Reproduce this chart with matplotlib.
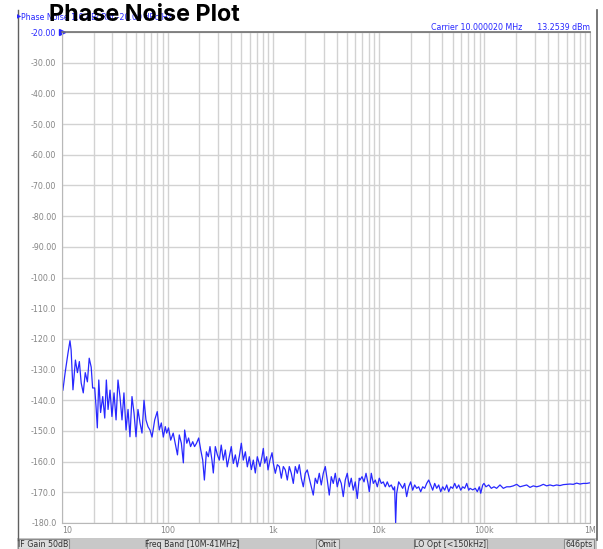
import matplotlib.pyplot as plt
from matplotlib.patches import Rectangle
from matplotlib.ticker import FixedLocator, NullFormatter

# offset frequency (Hz) and phase noise (dBc/Hz)
freq_hz = [
    10.2, 10.7, 11.4, 11.9, 12.2, 12.7, 13.4, 14.0, 14.6, 15.2, 15.9, 16.6, 17.4, 18.1,
    18.9, 19.5, 20.4, 21.0, 21.6, 22.3, 23.2, 24.3, 25.4, 26.3, 27.3, 28.5, 29.7, 31.1,
    32.5, 33.9, 35.4, 37.0, 38.6, 40.4, 42.2, 44.0, 46.0, 48.1, 50.2, 52.4, 54.8, 57.2,
    59.8, 62.4, 65.2, 68.1, 71.2, 75.5, 79.8, 83.4, 87.2, 91.1, 95.1, 98.0, 102, 107,
    113, 118, 124, 129, 135, 141, 145, 152, 158, 165, 173, 180, 188, 197, 206, 215,
    223, 233, 243, 252, 263, 271, 283, 296, 309, 322, 337, 352, 367, 384, 401, 419,
    438, 457, 478, 499, 521, 545, 569, 594, 621, 648, 677, 707, 750, 783, 806, 831,
    867, 893, 933, 975, 1003, 1047, 1094, 1143, 1194, 1247, 1302, 1360, 1420, 1484,
    1550, 1619, 1691, 1766, 1845, 1927, 2012, 2102, 2196, 2294, 2396, 2503, 2614, 2731,
    2852, 2980, 3113, 3251, 3396, 3548, 3706, 3871, 4043, 4223, 4412, 4608, 4813, 5028,
    5252, 5486, 5730, 5985, 6252, 6531, 6640, 6936, 7245, 7568, 7905, 8128, 8490, 8869,
    9264, 9677, 10110, 10560, 11030, 11520, 12030, 12570, 13130, 13720, 14120, 14440,
    14760, 15420, 16110, 16830, 17580, 18360, 19180, 20040, 20930, 21860, 22840, 23860,
    24930, 26040, 27200, 28410, 29680, 31000, 32380, 33830, 35340, 36920, 38560, 40280,
    42080, 43960, 45920, 47970, 50110, 52340, 54680, 57120, 59660, 62320, 65100, 68010,
    71040, 73100, 77500, 82000, 85700, 89500, 92300, 96400, 99100, 103500, 109900,
    116200, 123200, 130600, 140500, 151000, 162600, 174600, 187800, 202300, 217300,
    233500, 251400, 270300, 290400, 312600, 336300, 361400, 388800, 418000, 449100,
    483100, 519600, 558500, 601200, 646700, 695000, 747800, 803500, 864600, 930500,
    1000000,
]
noise_dbc = [
    -136.7, -131.1, -124.6, -120.6, -123.6, -136.6, -126.9, -131.0, -127.4, -134.4,
    -137.6, -131.0, -134.0, -126.3, -129.2, -136.0, -136.0, -142.0, -149.0, -133.4,
    -144.0, -138.8, -145.8, -133.4, -143.0, -136.7, -145.3, -137.6, -146.4, -133.4,
    -138.8, -146.4, -137.6, -149.7, -143.0, -151.9, -138.8, -144.2, -151.9, -143.0,
    -147.4, -150.7, -140.0, -146.4, -148.6, -149.7, -152.0, -146.4, -143.7, -149.7,
    -147.4, -152.0, -148.6, -150.7, -149.0, -153.0, -150.7, -154.0, -157.8, -151.3,
    -154.0, -160.4, -149.7, -154.0, -152.3, -155.1, -153.5, -155.1, -154.0, -152.3,
    -156.2, -159.5, -166.0, -156.8, -158.4, -155.1, -159.5, -163.7, -155.1, -157.8,
    -159.5, -154.6, -159.5, -156.2, -161.7, -158.4, -155.1, -160.6, -157.8, -161.7,
    -158.2, -154.0, -159.5, -156.8, -161.7, -158.4, -162.6, -159.5, -163.7, -158.4,
    -161.6, -158.4, -155.7, -160.5, -158.4, -162.7, -159.4, -157.1, -160.5, -163.8,
    -161.0, -161.6, -165.4, -161.6, -162.7, -166.0, -161.6, -163.8, -167.1, -161.6,
    -163.8, -161.0, -165.4, -168.2, -163.8, -162.7, -165.4, -168.2, -170.9, -165.4,
    -167.1, -163.8, -167.6, -163.8, -161.6, -166.0, -170.9, -164.9, -167.1, -163.8,
    -168.2, -165.4, -167.1, -171.4, -166.0, -163.8, -168.2, -165.4, -169.3, -166.6,
    -172.0, -165.4, -166.0, -164.9, -166.6, -163.8, -167.1, -169.8, -163.8, -167.1,
    -166.0, -168.2, -165.4, -167.1, -166.6, -168.2, -166.6, -168.2, -167.6, -169.2,
    -168.2, -180.0, -170.4, -166.6, -167.6, -168.7, -167.1, -171.4, -168.2, -166.6,
    -169.3, -167.6, -168.7, -168.2, -169.8, -168.2, -168.7, -167.1, -166.0, -167.6,
    -169.3, -167.1, -168.7, -167.6, -169.8, -168.2, -169.3, -167.6, -169.8, -168.2,
    -168.7, -167.1, -168.7, -167.6, -169.3, -168.2, -168.7, -167.1, -169.3, -168.7,
    -169.2, -168.7, -169.8, -168.2, -170.3, -167.6, -167.1, -168.2, -167.6, -168.7,
    -168.2, -168.7, -167.6, -168.7, -168.2, -168.2, -167.9, -167.4, -168.2, -167.9,
    -167.6, -168.4, -167.9, -168.2, -167.9, -167.4, -167.9, -167.6, -167.9, -167.6,
    -167.8, -167.5, -167.4, -167.3, -167.4, -167.0, -167.3, -167.1, -167.1, -166.9,
]

y_ticks = list(range(-20, -181, -10))
x_ticks = [10, 100, 1e3, 1e4, 1e5, 1e6]
x_tick_labels = ["10", "100", "1k", "10k", "100k", "1M"]
status_items = ["IF Gain 50dB", "Freq Band [10M-41MHz]", "Omit", "LO Opt [<150kHz]", "646pts"]

W, H = 603, 549
BLUE = "#2828ff"
GREY_TXT = "#858585"
small = dict(family="DejaVu Sans", stretch="condensed", fontsize=6.3)


def fx(px):
    return px / W


def fy(py):
    return 1 - py / H


fig = plt.figure(figsize=(W / 100, H / 100), dpi=100)
fig.patch.set_facecolor("white")

ax = fig.add_axes([fx(62), fy(523), fx(590) - fx(62), fy(32) - fy(523)])
ax.plot(freq_hz, noise_dbc, color=BLUE, lw=0.9)
ax.set_xscale("log")
ax.set_xlim(10, 1e6)
ax.set_ylim(-180, -20)

ax.set_yticks(y_ticks)
ax.set_yticklabels([f"{v:.2f}" if v > -100 else f"{v:.1f}" for v in y_ticks], **small)
ax.set_xticks(x_ticks)
ax.set_xticklabels(x_tick_labels, **small)
minors = [m * d for d in [10, 100, 1e3, 1e4, 1e5] for m in range(2, 10)]
ax.xaxis.set_minor_locator(FixedLocator(minors))
ax.xaxis.set_minor_formatter(NullFormatter())
ax.tick_params(which="both", length=0, colors=GREY_TXT)
ax.tick_params(axis="y", pad=4)
ax.tick_params(axis="x", pad=2)
for lab in ax.get_yticklabels():
    lab.set_color(GREY_TXT)
ax.get_yticklabels()[0].set_color(BLUE)
ax.get_xticklabels()[0].set_ha("left")
ax.grid(True, which="both", color="#d2d2d2", lw=1.0)
ax.set_axisbelow(True)
for side in ["left", "right", "bottom"]:
    ax.spines[side].set_color("#b8b8b8")
ax.spines["top"].set_color("#707070")
ax.spines["top"].set_linewidth(1.2)
ax.plot(0.0, 1.0, marker=">", color=BLUE, ms=4, transform=ax.transAxes, clip_on=False)

# outer frame lines
fig.add_artist(plt.Line2D([fx(17.5), fx(17.5)], [fy(10), fy(540)], color="#606060", lw=1))
fig.add_artist(plt.Line2D([fx(597), fx(597)], [fy(10), fy(540)], color="#606060", lw=1.2))

# header texts
fig.text(fx(17), fy(17), "\u25b6", color=BLUE, fontsize=4, va="center", ha="left")
fig.text(fx(21), fy(17), "Phase Noise 1.0 dB/ Ref -20.00 dBc/Hz", color=BLUE, va="center", **small)
fig.text(fx(590), fy(27), "Carrier 10.000020 MHz      13.2539 dBm", color=BLUE, ha="right", va="center", **small)
fig.text(fx(49), fy(15), "Phase Noise Plot", fontsize=16.8, fontweight="bold", family="Inter",
         color="black", ha="left", va="center")

# status bar
fig.add_artist(Rectangle((fx(17), 0), fx(597) - fx(17), fy(538), facecolor="#c8c8c8",
                         edgecolor="none", transform=fig.transFigure))
box_px = [(18, 69), (147, 238), (316, 339), (414, 487), (564, 594)]
for (a, b), label in zip(box_px, status_items):
    fig.add_artist(Rectangle((fx(a), 0), fx(b) - fx(a), fy(539), facecolor="#dcdcdc",
                             edgecolor="#8c8c8c", lw=0.8, transform=fig.transFigure))
    fig.text(fx((a + b) / 2), fy(544.5), label, color="#303030", ha="center", va="center", **small)

fig.savefig("out.png", dpi=100)
